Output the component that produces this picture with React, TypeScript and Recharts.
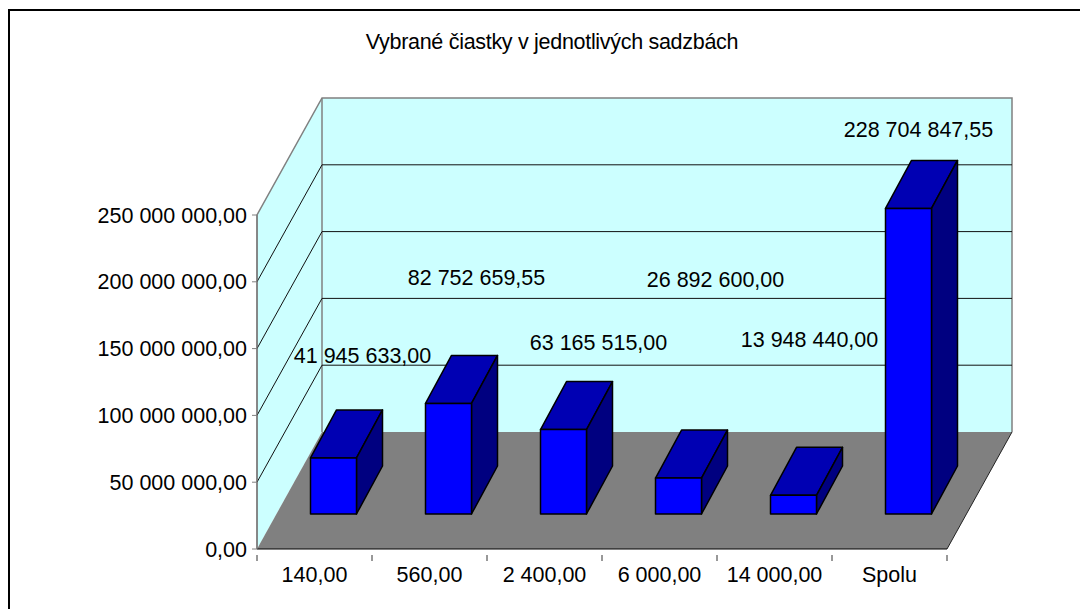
import { BarChart, Bar, XAxis, YAxis, LabelList, ReferenceArea, ReferenceLine } from "recharts";

const categories = ["140,00", "560,00", "2 400,00", "6 000,00", "14 000,00", "Spolu"];
const amounts = [41945633, 82752659.55, 63165515, 26892600, 13948440, 228704847.55];
const amountLabels = [
  "41 945 633,00",
  "82 752 659,55",
  "63 165 515,00",
  "26 892 600,00",
  "13 948 440,00",
  "228 704 847,55",
];
const valueTicks = [0, 50000000, 100000000, 150000000, 200000000, 250000000];

const data = categories.map((category, i) => ({ category, amount: amounts[i], label: amountLabels[i] }));

// fake 3d: how far the back wall sits behind the axis plane
const WALL_DX = 65;
const WALL_DY = -117;
// bars stand part of the way in
const BAR_DX = 19;
const BAR_DY = -35;
const BAR_DEPTH_X = 26;
const BAR_DEPTH_Y = -48;

// the excel labels are scattered by hand, so each one has its own nudge from the bar's front top
const labelNudge = [
  [29, -101],
  [28, -124],
  [35, -85],
  [37, -197],
  [16, -154],
  [10, -77],
];

const font = "'Liberation Sans', Arial, sans-serif";
const FONT_SIZE = 21.5;

const pts = (list: number[][]) => list.map((p) => p.join(",")).join(" ");

const fmtValue = (v: number) =>
  v === 0 ? "0,00" : v.toLocaleString("en-US").replace(/,/g, " ") + ",00";

function Walls(props: any) {
  const { x, y, width, height } = props;
  const bottom = y + height;
  const right = x + width;
  return (
    <g>
      <polygon
        points={pts([
          [x, y],
          [x + WALL_DX, y + WALL_DY],
          [x + WALL_DX, bottom + WALL_DY],
          [x, bottom],
        ])}
        fill="#ccffff"
      />
      <rect x={x + WALL_DX} y={y + WALL_DY} width={width} height={height} fill="#ccffff" />
      <polygon
        points={pts([
          [x, bottom],
          [x + WALL_DX, bottom + WALL_DY],
          [right + WALL_DX, bottom + WALL_DY],
          [right, bottom],
        ])}
        fill="#808080"
      />
      <polyline
        points={pts([
          [x, bottom],
          [x, y],
          [x + WALL_DX, y + WALL_DY],
          [right + WALL_DX, y + WALL_DY],
          [right + WALL_DX, bottom + WALL_DY],
        ])}
        fill="none"
        stroke="#808080"
        strokeWidth={1.5}
      />
      <line
        x1={x + WALL_DX}
        y1={y + WALL_DY}
        x2={x + WALL_DX}
        y2={bottom + WALL_DY}
        stroke="#808080"
        strokeWidth={1.5}
      />
      <line x1={right} y1={bottom} x2={right + WALL_DX} y2={bottom + WALL_DY} stroke="#222" />
      <line x1={x} y1={y} x2={x} y2={bottom} stroke="#808080" />
    </g>
  );
}

// one gridline bends round the corner: side wall, then back wall
function GridLine(props: any) {
  const { x1, x2, y1 } = props;
  return (
    <polyline
      points={pts([
        [x1, y1],
        [x1 + WALL_DX, y1 + WALL_DY],
        [x2 + WALL_DX, y1 + WALL_DY],
      ])}
      fill="none"
      stroke="#111"
      strokeWidth={1}
    />
  );
}

function Box(props: any) {
  const { x, y, width, height } = props;
  const fx = x + BAR_DX;
  const fy = y + BAR_DY;
  const top = [
    [fx, fy],
    [fx + BAR_DEPTH_X, fy + BAR_DEPTH_Y],
    [fx + width + BAR_DEPTH_X, fy + BAR_DEPTH_Y],
    [fx + width, fy],
  ];
  const side = [
    [fx + width, fy],
    [fx + width + BAR_DEPTH_X, fy + BAR_DEPTH_Y],
    [fx + width + BAR_DEPTH_X, fy + height + BAR_DEPTH_Y],
    [fx + width, fy + height],
  ];
  return (
    <g stroke="#000" strokeWidth={1.5} strokeLinejoin="round">
      <polygon points={pts(top)} fill="#0000b3" />
      <polygon points={pts(side)} fill="#000080" />
      <rect x={fx} y={fy} width={width} height={height} fill="#0000ff" />
    </g>
  );
}

function AmountLabel(props: any) {
  const { x, y, width, index, value } = props;
  const [dx, dy] = labelNudge[index];
  return (
    <text
      x={x + width / 2 + BAR_DX + dx}
      y={y + BAR_DY + dy}
      textAnchor="middle"
      dominantBaseline="middle"
      fontSize={FONT_SIZE}
      fontFamily={font}
      fill="#000"
    >
      {value}
    </text>
  );
}

// ticks sit between the categories, the label in the middle of the band
function CategoryTick(props: any) {
  const { x, y, index, payload, width } = props;
  const half = width / categories.length / 2;
  const axisY = y - 8;
  return (
    <g>
      <line x1={x - half} y1={axisY} x2={x - half} y2={axisY + 6} stroke="#333" />
      {index === categories.length - 1 && (
        <line x1={x + half} y1={axisY} x2={x + half} y2={axisY + 6} stroke="#333" />
      )}
      <text x={x} y={axisY + 21} textAnchor="middle" dominantBaseline="middle" fontSize={FONT_SIZE} fontFamily={font} fill="#000">
        {payload.value}
      </text>
    </g>
  );
}

export default function App() {
  return (
    <div style={{ position: "absolute", left: 0, top: 0, width: 1080, height: 609, overflow: "hidden", background: "#fff" }}>
      <div
        style={{
          position: "absolute",
          left: 8,
          top: 9,
          width: 1200,
          height: 700,
          border: "2px solid #000",
        }}
      />
      <div
        style={{
          position: "absolute",
          left: 0,
          top: 30,
          width: 1104,
          textAlign: "center",
          fontFamily: font,
          fontSize: FONT_SIZE,
          letterSpacing: -0.3,
        }}
      >
        Vybrané čiastky v jednotlivých sadzbách
      </div>
      <BarChart
        width={1080}
        height={609}
        data={data}
        margin={{ top: 215, right: 133, bottom: 30, left: 7 }}
        barCategoryGap="30%"
        style={{ position: "absolute", left: 0, top: 0 }}
      >
        <ReferenceArea x1={categories[0]} x2={categories[5]} shape={Walls} ifOverflow="visible" />
        {valueTicks.slice(1, -1).map((t) => (
          <ReferenceLine key={t} y={t} shape={GridLine} ifOverflow="visible" zIndex={200} />
        ))}
        <XAxis
          dataKey="category"
          stroke="#000"
          tick={CategoryTick}
          tickLine={false}
          tickMargin={8}
          interval={0}
        />
        <YAxis
          width={250}
          domain={[0, 250000000]}
          ticks={valueTicks}
          tickFormatter={fmtValue}
          stroke="#808080"
          tick={{ fill: "#000", fontSize: FONT_SIZE, fontFamily: font }}
          tickSize={5}
          tickMargin={5}
        />
        <Bar dataKey="amount" shape={Box} isAnimationActive={false}>
          <LabelList dataKey="label" content={AmountLabel} />
        </Bar>
      </BarChart>
    </div>
  );
}
